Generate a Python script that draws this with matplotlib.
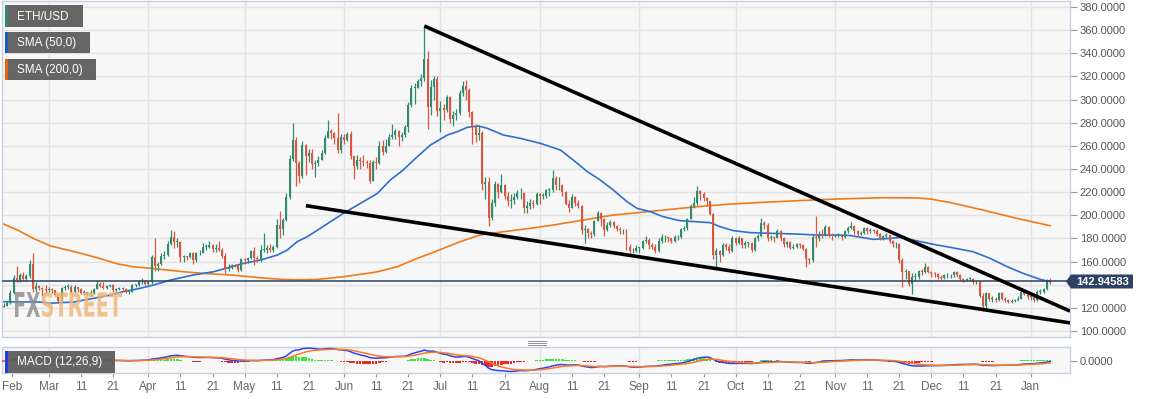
import numpy as np
import pandas as pd
import matplotlib
matplotlib.use("Agg")
import matplotlib.pyplot as plt
from matplotlib.patches import Rectangle, Polygon, PathPatch
from matplotlib.lines import Line2D
from matplotlib.textpath import TextPath
from matplotlib.font_manager import FontProperties
from matplotlib.transforms import Affine2D

plt.rcParams["font.family"] = ["Liberation Sans", "DejaVu Sans"]

W, H = 1153, 399

# ---- ETH/USD daily candles, 14 Feb 2019 .. 7 Jan 2020 (day index 0 = 14 Feb) ----
first_open = 122.5
feb_close = [121.0, 122.0, 124.5, 133.0, 146.0, 144.0, 148.0, 145.0, 147.5, 158.0, 136.0, 139.0, 137.0, 136.0, 135.0]
feb_high = [123.5, 124, 126, 135, 148, 156, 150, 151, 149, 161, 167, 142, 140, 138, 140]
feb_low = [119.5, 120.5, 121.5, 123.5, 132, 142, 142, 143, 143, 146, 134, 134, 135, 130, 133]

mar_close = [136, 135, 131, 126, 137, 138, 138, 134, 138, 136, 133, 134, 132, 133, 136, 141, 139, 137, 139, 140,
             135, 136, 137, 136, 134, 134, 140, 140, 143, 143, 141]
mar_high = [138, 137, 135, 132, 138, 140, 141, 140, 140, 138, 137, 135, 134, 135, 137, 144, 142, 142, 140, 141,
            141, 137, 138, 138, 137, 135, 141, 141, 144, 146, 143]
mar_low = [134, 133, 130, 125, 125, 135, 136, 133, 134, 134, 132, 131, 131, 130, 132, 136, 138, 136, 136, 138,
           134, 134, 135, 135, 133, 132, 134, 138, 139, 141, 140]

apr_close = [142, 164, 156, 158, 165, 166, 175, 181, 177, 177, 164, 165, 164, 167, 161, 167, 167, 173, 173, 174,
             171, 172, 170, 165, 154, 155, 157, 156, 153, 162]
apr_high = [144, 166, 180, 160, 167, 169, 178, 187, 186, 180, 178, 166, 165, 168, 168, 168, 170, 176, 175, 178,
            175, 175, 178, 172, 167, 158, 158, 158, 157, 163]
apr_low = [140, 141, 152, 152, 157, 162, 165, 174, 172, 173, 160, 160, 161, 163, 158, 160, 166, 167, 170, 172,
           168, 168, 169, 163, 150, 152, 154, 155, 151, 152]

may_close = [161, 163, 169, 163, 162, 170, 170, 172, 170, 173, 192, 188, 196, 216, 249, 265, 245, 234, 261, 251,
             254, 244, 245, 248, 254, 267, 273, 271, 267, 256, 268]
may_high = [163, 164, 170, 173, 165, 174, 185, 174, 175, 174, 197, 204, 198, 219, 252, 280, 268, 247, 264, 262,
            257, 257, 248, 251, 256, 269, 282, 275, 272, 288, 270]
may_low = [158, 159, 162, 157, 160, 160, 168, 167, 168, 168, 172, 180, 183, 195, 214, 247, 225, 228, 232, 235,
           246, 240, 233, 243, 248, 253, 267, 266, 262, 254, 254]

jun_close = [265, 270, 251, 243, 248, 247, 246, 245, 230, 246, 245, 260, 255, 260, 268, 269, 273, 268, 269, 276,
             295, 310, 310, 316, 319, 335, 294, 311, 318, 290]
jun_high = [270, 272, 273, 251, 252, 250, 252, 248, 248, 248, 250, 264, 265, 266, 270, 279, 275, 274, 272, 278,
            298, 313, 314, 318, 322, 363, 342, 317, 320, 320]
jun_low = [262, 264, 249, 231, 240, 240, 243, 241, 228, 230, 240, 244, 252, 254, 264, 266, 266, 260, 264, 268,
           272, 294, 296, 310, 312, 316, 275, 287, 300, 286]

jul_close = [293, 291, 302, 283, 287, 288, 306, 312, 308, 289, 276, 269, 271, 227, 229, 198, 211, 227, 220, 226,
             217, 212, 213, 216, 219, 219, 206, 208, 211, 210, 218]
jul_high = [299, 296, 304, 303, 290, 292, 308, 316, 317, 310, 290, 279, 278, 273, 233, 233, 214, 230, 228, 236,
            227, 220, 218, 219, 222, 224, 220, 212, 214, 213, 220]
jul_low = [272, 282, 289, 280, 277, 282, 287, 303, 300, 285, 262, 263, 265, 222, 214, 191, 196, 208, 215, 219,
           214, 208, 206, 210, 214, 214, 202, 202, 205, 206, 209]

aug_close = [217, 217, 222, 222, 232, 226, 226, 220, 210, 206, 216, 211, 208, 187, 188, 185, 184, 195, 202, 197,
             187, 192, 194, 191, 188, 187, 187, 173, 169, 169, 172]
aug_high = [219, 219, 223, 224, 239, 234, 233, 227, 221, 213, 218, 217, 213, 209, 192, 189, 186, 196, 204, 203,
            198, 194, 196, 195, 192, 190, 188, 188, 175, 172, 174]
aug_low = [210, 214, 215, 217, 220, 222, 222, 217, 209, 203, 206, 208, 206, 184, 176, 180, 180, 182, 195, 191,
           182, 186, 190, 189, 186, 184, 184, 170, 167, 167, 168]

sep_close = [172, 178, 179, 174, 173, 169, 178, 181, 181, 180, 178, 181, 181, 188, 189, 197, 208, 211, 221, 218,
             215, 212, 201, 166, 169, 166, 174, 173, 169, 180]
sep_high = [173, 179, 182, 180, 176, 175, 180, 184, 183, 182, 180, 183, 183, 189, 191, 198, 210, 216, 225, 222,
            220, 216, 212, 202, 172, 170, 176, 176, 175, 182]
sep_low = [167, 171, 176, 171, 171, 167, 168, 176, 177, 177, 176, 177, 179, 180, 186, 187, 197, 206, 209, 213,
           212, 209, 200, 162, 155, 160, 165, 170, 167, 168]

oct_close = [176, 180, 174, 176, 176, 170, 180, 182, 193, 192, 180, 181, 180, 186, 180, 175, 177, 172, 173, 175,
             174, 171, 162, 161, 181, 180, 184, 183, 190, 183, 182]
oct_high = [181, 182, 180, 178, 177, 177, 181, 184, 198, 195, 193, 183, 182, 188, 187, 181, 178, 178, 175, 176,
            176, 175, 172, 163, 183, 199, 186, 188, 192, 191, 185]
oct_low = [174, 175, 172, 172, 173, 168, 169, 178, 181, 188, 178, 179, 177, 180, 178, 173, 173, 171, 171, 172,
           172, 170, 155, 158, 160, 173, 178, 180, 182, 181, 179]

nov_close = [183, 183, 181, 186, 189, 191, 186, 184, 185, 189, 186, 187, 186, 184, 180, 182, 183, 178, 175, 175,
             161, 151, 152, 141, 147, 147, 152, 151, 155, 151]
nov_high = [184, 185, 184, 187, 191, 194, 192, 187, 186, 190, 190, 189, 188, 188, 185, 183, 185, 184, 179, 177,
            176, 163, 154, 152, 150, 150, 153, 154, 159, 156]
nov_low = [181, 181, 179, 180, 185, 188, 184, 182, 183, 184, 184, 185, 185, 182, 179, 179, 180, 176, 173, 172,
           159, 138, 145, 139, 132, 143, 145, 148, 150, 150]

dec_close = [150, 149, 147, 146, 148, 148, 148, 151, 148, 145, 144, 145, 145, 142, 142, 130, 122, 133, 128, 128,
             127, 133, 128, 127, 125, 126, 127, 128, 134, 132, 129]
dec_high = [152, 151, 150, 148, 149, 150, 149, 152, 152, 149, 146, 146, 147, 146, 143, 143, 133, 134, 133, 130,
            129, 134, 134, 129, 128, 128, 128, 130, 135, 135, 133]
dec_low = [147, 147, 145, 144, 145, 146, 146, 147, 147, 144, 142, 143, 143, 141, 141, 129, 117, 120, 126, 125,
           125, 126, 127, 125, 124, 124, 125, 126, 128, 131, 128]

jan_close = [130, 127, 134, 134, 136, 144, 142.94583]
jan_high = [132, 131, 135, 136, 137, 145, 145.5]
jan_low = [127, 125, 126, 132, 133, 135, 141]

# SMA curves: (day index, value)
sma50_day = [0.4, 12.4, 15.5, 22.6, 28.9, 34.2, 38.2, 43.5, 47.6, 52.9, 60, 66.3, 75.6, 80.9, 86.2, 89.3, 92.4,
             95.5, 99.6, 103.6, 106.8, 112.1, 117.4, 121.4, 125.4, 129.8, 133.9, 139.2, 142.3, 145.4, 148.8, 151.6,
             156.6, 161.9, 168.1, 174.4, 178.4, 182.8, 186.8, 190.9, 195.2, 198.3, 202.4, 206.4, 211.7, 217, 221.1,
             224.2, 228.3, 233.6, 239.8, 248.2, 254.4, 260.7, 264.7, 271.9, 277.2, 280.3, 284.3, 290.6, 295.9, 303,
             308.3, 313.6, 318.6, 323.9, 326.1, 327]
sma50_val = [125.3, 125, 124, 125, 128.2, 131, 134, 136.9, 139.7, 144, 148.4, 151.2, 158.4, 161.3, 165.6, 170, 177.2,
             181.5, 188.7, 196, 201.7, 210.3, 219, 230.5, 239.1, 250.6, 260.7, 269.4, 272.3, 276, 277.2, 275.2,
             269.4, 266.5, 262.2, 256.4, 247.8, 237.7, 230.5, 221.8, 211.7, 206, 203.1, 198.8, 195.3, 194.4, 193.6,
             190.1, 186.7, 185, 184.4, 183.8, 182.9, 182.9, 182.5, 179.2, 180, 180.9, 178.6, 174.9, 172.3, 168.5,
             162.8, 155.6, 149.8, 144.6, 143.2, 142.8]
sma200_day = [0.4, 5.2, 10.2, 15.5, 20.8, 25.8, 31.1, 36.4, 41.3, 46.6, 51.9, 56.9, 62.2, 72.5, 83.1, 88.1, 93.4,
              98.7, 106.8, 114.2, 117.4, 123.6, 129.8, 133.9, 143.2, 149.4, 156.6, 165, 172.2, 178.4, 184.6, 190.9,
              198.3, 206.4, 217, 227.3, 237.6, 248.2, 258.5, 264.7, 275, 285.6, 289.6, 295.9, 306.1, 316.7, 327]
sma200_val = [193, 187.3, 180, 173.5, 170, 166.5, 162.5, 158, 155.5, 154.2, 152.7, 151.2, 150, 148.2, 145.5, 144.5,
              144.2, 144.6, 146.9, 149.8, 151.2, 155.6, 162.8, 167, 177.2, 183, 185.8, 188.7, 191.6, 194.4, 197.3,
              200.2, 202.2, 204.5, 207.4, 209.7, 211.2, 212.6, 213.8, 214.4, 215.2, 215, 214.1, 211, 204.5, 197.3, 191]

# hand-drawn trend lines: (day, price) end points
upper_line_day = [132, 333.2]
upper_line_val = [363.6, 117.2]
lower_line_day = [95.1, 333.2]
lower_line_val = [208.3, 107.0]

month_days = [15, 46, 76, 107, 137, 168, 199, 229, 260, 290, 321]
tick_days = [3.6, 15, 25, 35, 46, 56, 66, 76, 86, 96, 107, 117, 127, 137, 147, 157, 168, 178, 188,
             199, 209, 219, 229, 239, 249, 260, 270, 280, 290, 300, 310, 321]
tick_labels = ["Feb", "Mar", "11", "21", "Apr", "11", "21", "May", "11", "21", "Jun", "11", "21",
               "Jul", "11", "21", "Aug", "11", "21", "Sep", "11", "21", "Oct", "11", "21",
               "Nov", "11", "21", "Dec", "11", "21", "Jan"]
price_ticks = list(range(100, 381, 20))

GREEN = "#2f8b6c"
RED = "#d9573f"
BLUE = "#2f6fcf"
ORANGE = "#f07a1a"
NAVY = "#2c4163"

close = np.array(feb_close + mar_close + apr_close + may_close + jun_close + jul_close + aug_close +
                 sep_close + oct_close + nov_close + dec_close + jan_close, dtype=float)
high = np.array(feb_high + mar_high + apr_high + may_high + jun_high + jul_high + aug_high +
                sep_high + oct_high + nov_high + dec_high + jan_high, dtype=float)
low = np.array(feb_low + mar_low + apr_low + may_low + jun_low + jul_low + aug_low +
               sep_low + oct_low + nov_low + dec_low + jan_low, dtype=float)
opn = np.r_[first_open, close[:-1]]
high = np.maximum(high, np.maximum(opn, close))
low = np.minimum(low, np.minimum(opn, close))
days = np.arange(len(close))
last = close[-1]

XL = (0.4, 333.2)

fig = plt.figure(figsize=(W / 100, H / 100), dpi=100)
fig.patch.set_facecolor("white")


def px_axes(x0, y0, x1, y1):
    return fig.add_axes([x0 / W, 1 - y1 / H, (x1 - x0) / W, (y1 - y0) / H])


def fx(x):
    return x / W


def fy(y):
    return 1 - y / H


ax = px_axes(2, 1, 1070, 337)
mx = px_axes(2, 347, 1070, 373)

for a in (ax, mx):
    a.set_facecolor("#f7f7f7")
    for s in a.spines.values():
        s.set_color("#c8cfdf")
        s.set_linewidth(1.0)
    a.set_xlim(*XL)
    for d in month_days:
        a.axvline(d, color="#e2e2e2", lw=1.0, zorder=0)

# main price panel; the 140 label sits under the last-price tag
ax.set_ylim(94.8, 385.2)
ax.set_yticks(price_ticks)
ax.set_yticklabels(["" if v == 140 else f"{v:.4f}" for v in price_ticks])
ax.yaxis.tick_right()
ax.tick_params(axis="y", length=5, color="#9a9a9a", labelcolor="#555555", labelsize=8, pad=2)
ax.tick_params(axis="x", length=0, labelbottom=False)
ax.grid(axis="y", color="#e2e2e2", lw=1.0, zorder=0)
ax.set_axisbelow(True)

ax.plot(sma200_day, sma200_val, color=ORANGE, lw=1.2, zorder=2)
ax.plot(sma50_day, sma50_val, color=BLUE, lw=1.2, zorder=2)

col = np.where(close >= opn, GREEN, RED)
ax.vlines(days, low, high, colors=col, lw=0.9, zorder=3)
body_lo = np.minimum(opn, close)
body_h = np.maximum(np.abs(close - opn), 0.5)
ax.bar(days, body_h, bottom=body_lo, width=0.62, color=col, lw=0, zorder=4)

ax.axhline(last, color=NAVY, lw=1.1, zorder=5)
ax.plot(upper_line_day, upper_line_val, color="black", lw=2.6, solid_capstyle="butt", zorder=6)
ax.plot(lower_line_day, lower_line_val, color="black", lw=2.6, solid_capstyle="butt", zorder=6)

# MACD panel
s = pd.Series(close)
macd = s.ewm(span=12, adjust=False).mean() - s.ewm(span=26, adjust=False).mean()
signal = macd.ewm(span=9, adjust=False).mean()
hist = macd - signal
A = float(np.abs(macd).max()) * 1.08
mx.set_ylim(-0.85 * A, A)
mx.bar(days, hist, width=0.8, color=np.where(hist >= 0, "#2ee82e", "#f01a1a"), lw=0, alpha=0.95, zorder=2)
mx.plot(days, macd, color="#2a45f0", lw=1.1, zorder=3)
mx.plot(days, signal, color="#ff7a1c", lw=1.1, zorder=3)
mx.set_yticks([0])
mx.set_yticklabels(["0.0000"])
mx.yaxis.tick_right()
mx.tick_params(axis="y", length=5, color="#9a9a9a", labelcolor="#555555", labelsize=8, pad=2)
mx.set_xticks(tick_days)
mx.set_xticklabels(tick_labels)
mx.tick_params(axis="x", length=3, color="#9a9a9a", labelcolor="#666666", labelsize=8.5, pad=3)

# panel splitter handle
for yy in (341.0, 342.8, 344.6):
    fig.add_artist(Line2D([fx(528), fx(546)], [fy(yy), fy(yy)], color="#808080", lw=0.6))

# legend boxes
legend = [("ETH/USD", GREEN, 5, 83, 5, 27), ("SMA (50,0)", "#1d5bbd", 5, 90, 32, 53),
          ("SMA (200,0)", "#e8620c", 5, 96, 59, 80), ("MACD (12,26,9)", "#1d3cf0", 5, 115, 351, 373)]
for label, c, x0, x1, y0, y1 in legend:
    fig.add_artist(Rectangle((fx(x0), fy(y1)), fx(x1 - x0), (y1 - y0) / H, transform=fig.transFigure,
                             facecolor="#5a5a5a", alpha=0.93, lw=0, zorder=10))
    fig.add_artist(Rectangle((fx(x0), fy(y1)), fx(3), (y1 - y0) / H, transform=fig.transFigure,
                             facecolor=c, lw=0, zorder=11))
    fig.text(fx(17), fy((y0 + y1) / 2 + 0.5), label, color="white", fontsize=8.5, va="center", ha="left",
             zorder=12)

# last price tag
tag = Polygon([(fx(1066), fy(281.5)), (fx(1071), fy(274.5)), (fx(1133), fy(274.5)),
               (fx(1133), fy(288.5)), (fx(1071), fy(288.5))], closed=True, transform=fig.transFigure,
              facecolor=NAVY, lw=0, zorder=10)
fig.add_artist(tag)
fig.text(fx(1103), fy(281.8), f"{last:.5f}", color="white", fontsize=8, fontweight="bold",
         ha="center", va="center", zorder=11)

# FXSTREET watermark
fp = FontProperties(family="DejaVu Sans", weight="bold")
for word, color, x0, x1 in (("FX", "#8a8a8a", 15, 40), ("STREET", "#f0b370", 42, 122)):
    tp = TextPath((0, 0), word, size=30, prop=fp)
    ext = tp.get_extents()
    sx = (x1 - x0) / ext.width
    sy = 25 / ext.height
    tr = Affine2D().translate(-ext.x0, -ext.y0).scale(sx, sy).translate(x0, H - 317)
    fig.add_artist(PathPatch(tr.transform_path(tp), transform=None, facecolor=color, lw=0, alpha=0.8,
                             zorder=9))

fig.savefig("out.png", dpi=100, facecolor="white")
